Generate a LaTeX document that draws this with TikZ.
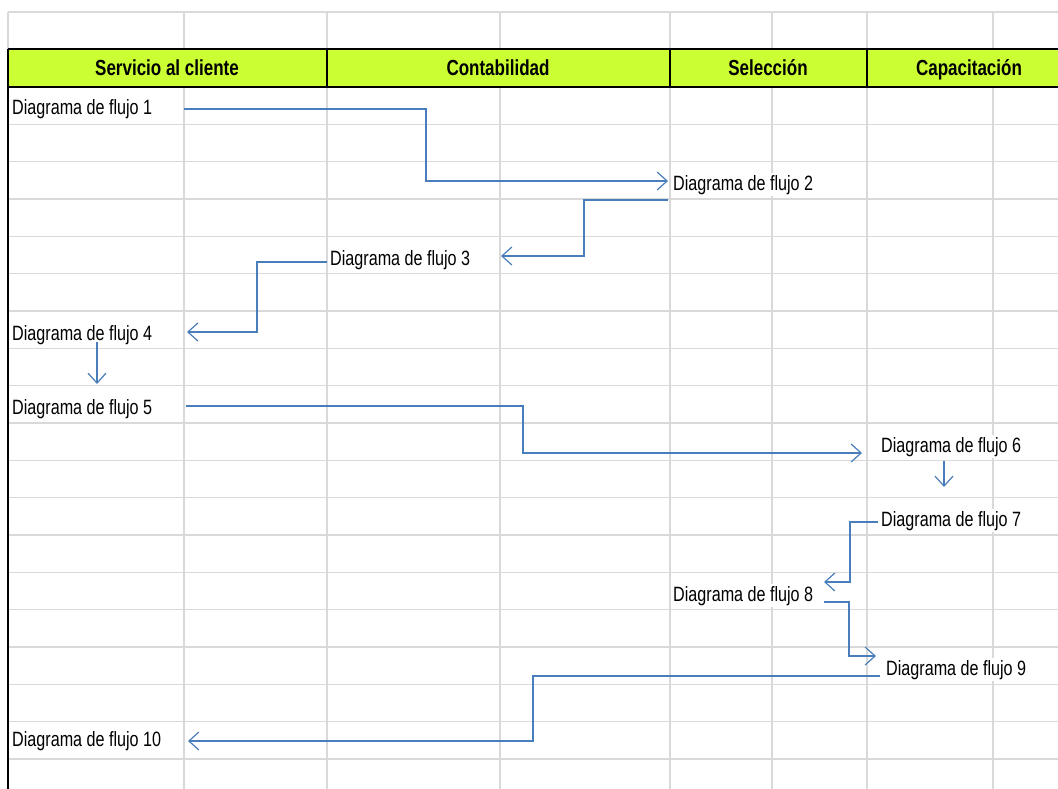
\documentclass[tikz,border=0pt]{standalone}
\usepackage{fontspec}
\setmainfont{Liberation Sans}[FakeStretch=0.78]
\usetikzlibrary{arrows.meta, calc}
\definecolor{headgreen}{HTML}{CCFF33}
\definecolor{gridgray}{HTML}{D9D9D9}
\definecolor{flowblue}{HTML}{4A7EBB}

\begin{document}
\begin{tikzpicture}[
    x=1pt, y=-1pt,
    cell/.style={
        anchor=base west,
        fill=white,
        inner xsep=1pt,
        inner ysep=2pt,
        font=\fontsize{20.7}{21}\selectfont},
    head/.style={
        anchor=base,
        inner sep=0pt,
        font=\bfseries\fontsize{21.8}{22}\selectfont},
    flow/.style={
        draw=flowblue,
        line width=1.2pt,
        -{Straight Barb[length=10pt, width=18pt]}}]
    \useasboundingbox (0,0) rectangle (1058,789);

    % hoja de calculo
    \foreach \x in {8,184,327,500,670,772,867,993}
        \draw[gridgray, line width=1.4pt] (\x,12) -- (\x,789);
    \draw[gridgray, line width=1.4pt] (8,12) -- (1058,12);
    \foreach \r in {1,...,18}
        \draw[gridgray, line width=1.4pt] (8,87+\r*37.33) -- (1058,87+\r*37.33);

    % encabezado
    \fill[headgreen] (8,49) rectangle (1058,87);
    \draw[line width=2pt] (8,49) -- (1058,49) (8,87) -- (1058,87);
    \foreach \x in {327,670,867}
        \draw[line width=2pt] (\x,49) -- (\x,87);
    \draw[line width=2.5pt] (8,49) -- (8,789);

    \node[head] (servicio) at (167,76) {Servicio al cliente};
    \node[head] (contab) at (498,76) {Contabilidad};
    \node[head] (seleccion) at (768,76) {Selección};
    \node[head] (capacit) at (969,76) {Capacitación};

    % diagramas
    \node[cell] (d1) at (11,115) {Diagrama de flujo 1};
    \node[cell] (d2) at (672,190) {Diagrama de flujo 2};
    \node[cell] (d3) at (329,265) {Diagrama de flujo 3};
    \node[cell] (d4) at (11,340) {Diagrama de flujo 4};
    \node[cell] (d5) at (11,414) {Diagrama de flujo 5};
    \node[cell] (d6) at (880,452) {Diagrama de flujo 6};
    \node[cell] (d7) at (880,526) {Diagrama de flujo 7};
    \node[cell] (d8) at (672,601) {Diagrama de flujo 8};
    \node[cell] (d9) at (885,675) {Diagrama de flujo 9};
    \node[cell] (d10) at (11,746) {Diagrama de flujo 10};

    % conectores
    \draw[flow] ($(d1.base west)+(173,-6)$) -| ($(d2.base west)+(-246,-9)$) -- ($(d2.base west)+(-4,-9)$);
    \draw[flow] ($(d2.base west)+(-4,10)$) -| ($(d3.base west)+(255,-9)$) -- ($(d3.base west)+(172,-9)$);
    \draw[flow] ($(d3.base west)+(-2,-3)$) -| ($(d4.base west)+(246,-8)$) -- ($(d4.base west)+(176,-8)$);
    \draw[flow] ($(d4.base west)+(86,2)$) -- ($(d5.base west)+(86,-30)$);
    \draw[flow] ($(d5.base west)+(175,-8)$) -| ($(d6.base west)+(-357,1)$) -- ($(d6.base west)+(-18,1)$);
    \draw[flow] ($(d6.base west)+(64,9)$) -- ($(d7.base west)+(64,-39)$);
    \draw[flow] ($(d7.base west)+(-2,-4)$) -| ($(d8.base west)+(178,-19)$) -- ($(d8.base west)+(152,-19)$);
    \draw[flow] ($(d8.base west)+(152,1)$) -| ($(d9.base west)+(-36,-19)$) -- ($(d9.base west)+(-9,-19)$);
    \draw[flow] ($(d9.base west)+(-5,1)$) -| ($(d10.base west)+(522,-5)$) -- ($(d10.base west)+(177,-5)$);
\end{tikzpicture}
\end{document}
